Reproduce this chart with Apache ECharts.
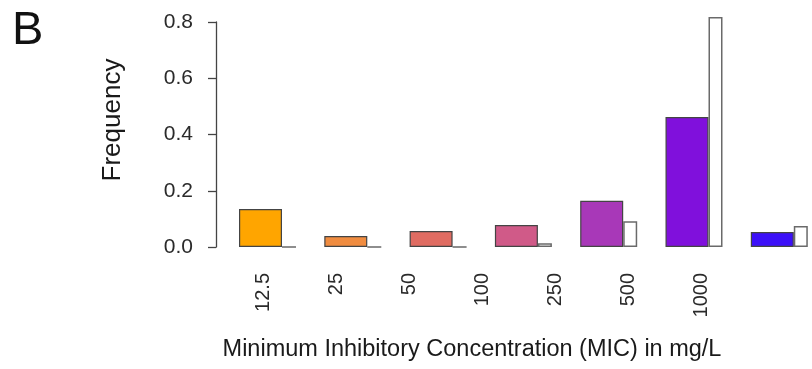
<!DOCTYPE html>
<html>
<head>
<meta charset="utf-8">
<script src="https://cdn.jsdelivr.net/npm/echarts@6/dist/echarts.min.js"></script>
<style>html,body{margin:0;padding:0;background:#fff;overflow:hidden;width:812px;height:369px}#c{width:830px;height:369px}</style>
</head>
<body>
<div id="c"></div>
<script>
const categories = ['12.5', '25', '50', '100', '250', '500', '1000'];
const colouredValues = [0.135, 0.039, 0.057, 0.078, 0.164, 0.462, 0.053];
const whiteValues = [0, 0, 0, 0.013, 0.092, 0.818, 0.075];
const barColors = ['#FFA500', '#F08C40', '#E06C62', '#D05A88', '#A838B8', '#8010DC', '#3C10F8'];
const yTicks = [0, 0.2, 0.4, 0.6, 0.8];

const FONT = '"Liberation Sans", Arial, Helvetica, sans-serif';
const chart = echarts.init(document.getElementById('c'), null, {renderer: 'canvas'});
chart.setOption({
  animation: false,
  backgroundColor: '#fff',
  grid: [
    {left: 224.85, width: 597.1, top: 22, bottom: 122, containLabel: false},
    {left: 227.5, width: 510, top: 22, bottom: 122, containLabel: false}
  ],
  xAxis: [
    {type: 'category', gridIndex: 0, data: categories,
     axisLine: {show: false}, axisTick: {show: false}, axisLabel: {show: false}, splitLine: {show: false}},
    {type: 'category', gridIndex: 1, data: categories,
     axisLine: {show: false}, axisTick: {show: false}, splitLine: {show: false},
     axisLabel: {rotate: 90, margin: 26, fontSize: 20, color: '#2a2a2a', fontFamily: FONT}}
  ],
  yAxis: [
    {type: 'value', gridIndex: 0, min: yTicks[0], max: yTicks[yTicks.length - 1], interval: 0.2, offset: 8.85,
     axisLine: {show: true, lineStyle: {color: '#444', width: 1.3}},
     axisTick: {show: true, length: 8, lineStyle: {color: '#444', width: 1.3}},
     splitLine: {show: false},
     axisLabel: {margin: 23, fontSize: 21, color: '#2a2a2a', fontFamily: FONT, formatter: v => v.toFixed(1)}},
    {type: 'value', gridIndex: 1, show: false, min: 0, max: 1}
  ],
  series: [
    {type: 'bar', xAxisIndex: 0, yAxisIndex: 0, data: colouredValues, barWidth: 43, barGap: '0%', clip: false,
     itemStyle: {color: p => barColors[p.dataIndex], borderColor: '#444', borderWidth: 1.2}},
    {type: 'bar', xAxisIndex: 0, yAxisIndex: 0, data: whiteValues, barWidth: 14, barGap: '0%', clip: false,
     itemStyle: {color: '#fff', borderColor: '#6a6a6a', borderWidth: 1.5}}
  ],
  graphic: [
    {type: 'text', left: 12, top: 8, style: {text: 'B', font: '47px ' + FONT, fill: '#111'}},
    {type: 'text', x: 113, y: 120, rotation: Math.PI / 2,
     style: {text: 'Frequency', font: '26px ' + FONT, fill: '#1a1a1a', align: 'center', verticalAlign: 'middle'}},
    {type: 'text', x: 472, y: 350,
     style: {text: 'Minimum Inhibitory Concentration (MIC) in mg/L', font: '23.5px ' + FONT, fill: '#1a1a1a', align: 'center', verticalAlign: 'middle'}}
  ]
});
</script>
</body>
</html>
